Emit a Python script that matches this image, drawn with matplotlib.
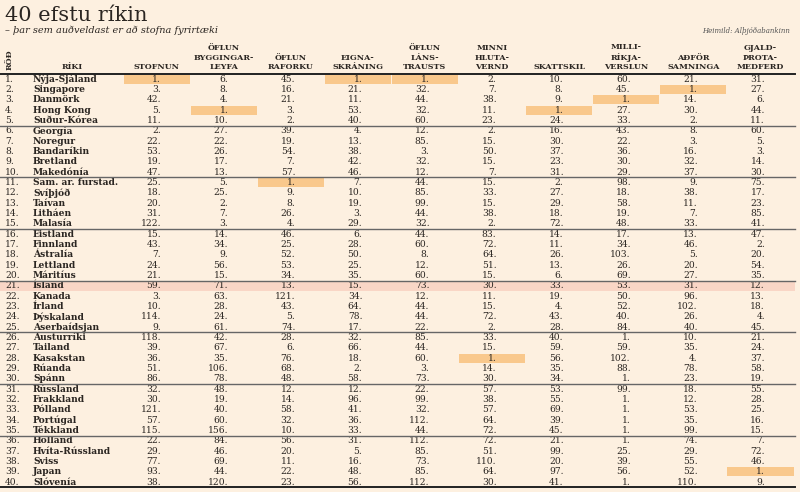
import matplotlib
matplotlib.use('Agg')
import matplotlib.pyplot as plt
from matplotlib.patches import Rectangle

# Data
countries = ['Nýja-Sjáland', 'Singapore', 'Danmörk', 'Hong Kong', 'Suður-Kórea',
             'Georgía', 'Noregur', 'Bandaríkin', 'Bretland', 'Makedónía',
             'Sam. ar. furstad.', 'Svíþjóð', 'Taívan', 'Litháen', 'Malasía',
             'Eistland', 'Finnland', 'Ástralía', 'Lettland', 'Máritíus',
             'Ísland', 'Kanada', 'Írland', 'Þýskaland', 'Aserbaídsjan',
             'Austurríki', 'Tailand', 'Kasakstan', 'Rúanda', 'Spánn',
             'Rússland', 'Frakkland', 'Pólland', 'Portúgal', 'Tékkland',
             'Holland', 'Hvíta-Rússland', 'Sviss', 'Japan', 'Slóvenía']

columns = ['STOFNUN', 'ÖFLUN\nBYGGINGAR-\nLEYFA', 'ÖFLUN\nRAFORKU', 'EIGNA-\nSKRÁNING',
           'ÖFLUN\nLÁNS-\nTRAUSTS', 'MINNI\nHLUTA-\nVERND', 'SKATTSKIL',
           'MILLI-\nRÍKJA-\nVERSLUN', 'AÐFÖR\nSAMNINGA', 'GJALD-\nÞROTA-\nMEDFERD']

ranks = [
    [1, 6, 45, 1, 1, 2, 10, 60, 21, 31],
    [3, 8, 16, 21, 32, 7, 8, 45, 1, 27],
    [42, 4, 21, 11, 44, 38, 9, 1, 14, 6],
    [5, 1, 3, 53, 32, 11, 1, 27, 30, 44],
    [11, 10, 2, 40, 60, 23, 24, 33, 2, 11],
    [2, 27, 39, 4, 12, 2, 16, 43, 8, 60],
    [22, 22, 19, 13, 85, 15, 30, 22, 3, 5],
    [53, 26, 54, 38, 3, 50, 37, 36, 16, 3],
    [19, 17, 7, 42, 32, 15, 23, 30, 32, 14],
    [47, 13, 57, 46, 12, 7, 31, 29, 37, 30],
    [25, 5, 1, 7, 44, 15, 2, 98, 9, 75],
    [18, 25, 9, 10, 85, 33, 27, 18, 38, 17],
    [20, 2, 8, 19, 99, 15, 29, 58, 11, 23],
    [31, 7, 26, 3, 44, 38, 18, 19, 7, 85],
    [122, 3, 4, 29, 32, 2, 72, 48, 33, 41],
    [15, 14, 46, 6, 44, 83, 14, 17, 13, 47],
    [43, 34, 25, 28, 60, 72, 11, 34, 46, 2],
    [7, 9, 52, 50, 8, 64, 26, 103, 5, 20],
    [24, 56, 53, 25, 12, 51, 13, 26, 20, 54],
    [21, 15, 34, 35, 60, 15, 6, 69, 27, 35],
    [59, 71, 13, 15, 73, 30, 33, 53, 31, 12],
    [3, 63, 121, 34, 12, 11, 19, 50, 96, 13],
    [10, 28, 43, 64, 44, 15, 4, 52, 102, 18],
    [114, 24, 5, 78, 44, 72, 43, 40, 26, 4],
    [9, 61, 74, 17, 22, 2, 28, 84, 40, 45],
    [118, 42, 28, 32, 85, 33, 40, 1, 10, 21],
    [39, 67, 6, 66, 44, 15, 59, 59, 35, 24],
    [36, 35, 76, 18, 60, 1, 56, 102, 4, 37],
    [51, 106, 68, 2, 3, 14, 35, 88, 78, 58],
    [86, 78, 48, 58, 73, 30, 34, 1, 23, 19],
    [32, 48, 12, 12, 22, 57, 53, 99, 18, 55],
    [30, 19, 14, 96, 99, 38, 55, 1, 12, 28],
    [121, 40, 58, 41, 32, 57, 69, 1, 53, 25],
    [57, 60, 32, 36, 112, 64, 39, 1, 35, 16],
    [115, 156, 10, 33, 44, 72, 45, 1, 99, 15],
    [22, 84, 56, 31, 112, 72, 21, 1, 74, 7],
    [29, 46, 20, 5, 85, 51, 99, 25, 29, 72],
    [77, 69, 11, 16, 73, 110, 20, 39, 55, 46],
    [93, 44, 22, 48, 85, 64, 97, 56, 52, 1],
    [38, 120, 23, 56, 112, 30, 41, 1, 110, 9],
]

# world #1 cells marked in the original (row, column)
leaders = [(0, 0), (0, 3), (0, 4), (1, 8), (2, 7), (3, 1), (3, 6),
           (10, 2), (27, 5), (38, 9)]
home = 'Ísland'

# Colours / layout
BG = '#fdf0e0'
HL = '#f9c88c'
HOME = '#f9d6c6'
INK = '#2b2622'
SERIF = 'DejaVu Serif'

W, H = 800, 492
top = 74.0
row_h = 10.33
col_x0 = 123.0
col_w = 67.1
right_edge = 795

fig = plt.figure(figsize=(W / 100, H / 100), dpi=100, facecolor=BG)
ax = fig.add_axes([0, 0, 1, 1])
ax.set_xlim(0, W)
ax.set_ylim(H, 0)
ax.axis('off')
ax.set_facecolor(BG)

# title block
ax.text(5, 21, '40 efstu ríkin', fontsize=15, family=SERIF, color=INK, va='baseline')
ax.text(5, 33, '– þar sem auðveldast er að stofna fyrirtæki', fontsize=7,
        family=SERIF, style='italic', color=INK, va='baseline')
ax.text(790, 33, 'Heimild: Alþjóðabankinn', fontsize=5, family=SERIF,
        style='italic', color='#555', va='baseline', ha='right')

# header
hdr = dict(fontsize=5.8, family=SERIF, fontweight='bold', color=INK,
           ha='center', va='bottom', linespacing=1.25)
ax.text(10, 70, 'RÖÐ', rotation=90, **hdr)
ax.text(72, 71, 'RÍKI', **hdr)
for j, name in enumerate(columns):
    ax.text(col_x0 + col_w * (j + 0.5), 71, name, **hdr)

# Ísland band
for i, c in enumerate(countries):
    if c == home:
        ax.add_patch(Rectangle((0, top + i * row_h), right_edge, row_h,
                               facecolor=HOME, edgecolor='none', zorder=0))

# leader highlights
for i, j in leaders:
    ax.add_patch(Rectangle((col_x0 + j * col_w + 0.5, top + i * row_h + 0.6),
                           col_w - 1, row_h - 1.2, facecolor=HL,
                           edgecolor='none', zorder=1))

# rows
for i, c in enumerate(countries):
    y = top + (i + 0.5) * row_h
    ax.text(5, y, f'{i + 1}.', fontsize=6.6, family=SERIF, color=INK,
            va='center', zorder=3)
    ax.text(33, y, c, fontsize=6.6, family=SERIF, fontweight='bold',
            color=INK, va='center', zorder=3)
    for j, v in enumerate(ranks[i]):
        ax.text(col_x0 + j * col_w + 38, y, f'{v}.', fontsize=6.6,
                family=SERIF, color=INK, va='center', ha='right', zorder=3)

# rules
ax.plot([0, right_edge], [top, top], color='#222', lw=1.4, zorder=4)
for k in range(5, len(countries), 5):
    yy = top + k * row_h
    ax.plot([0, right_edge], [yy, yy], color='#666', lw=1.0, zorder=4)
yb = top + len(countries) * row_h
ax.plot([0, right_edge], [yb, yb], color='#222', lw=1.4, zorder=4)

plt.savefig('out.png', dpi=100, facecolor=BG)
